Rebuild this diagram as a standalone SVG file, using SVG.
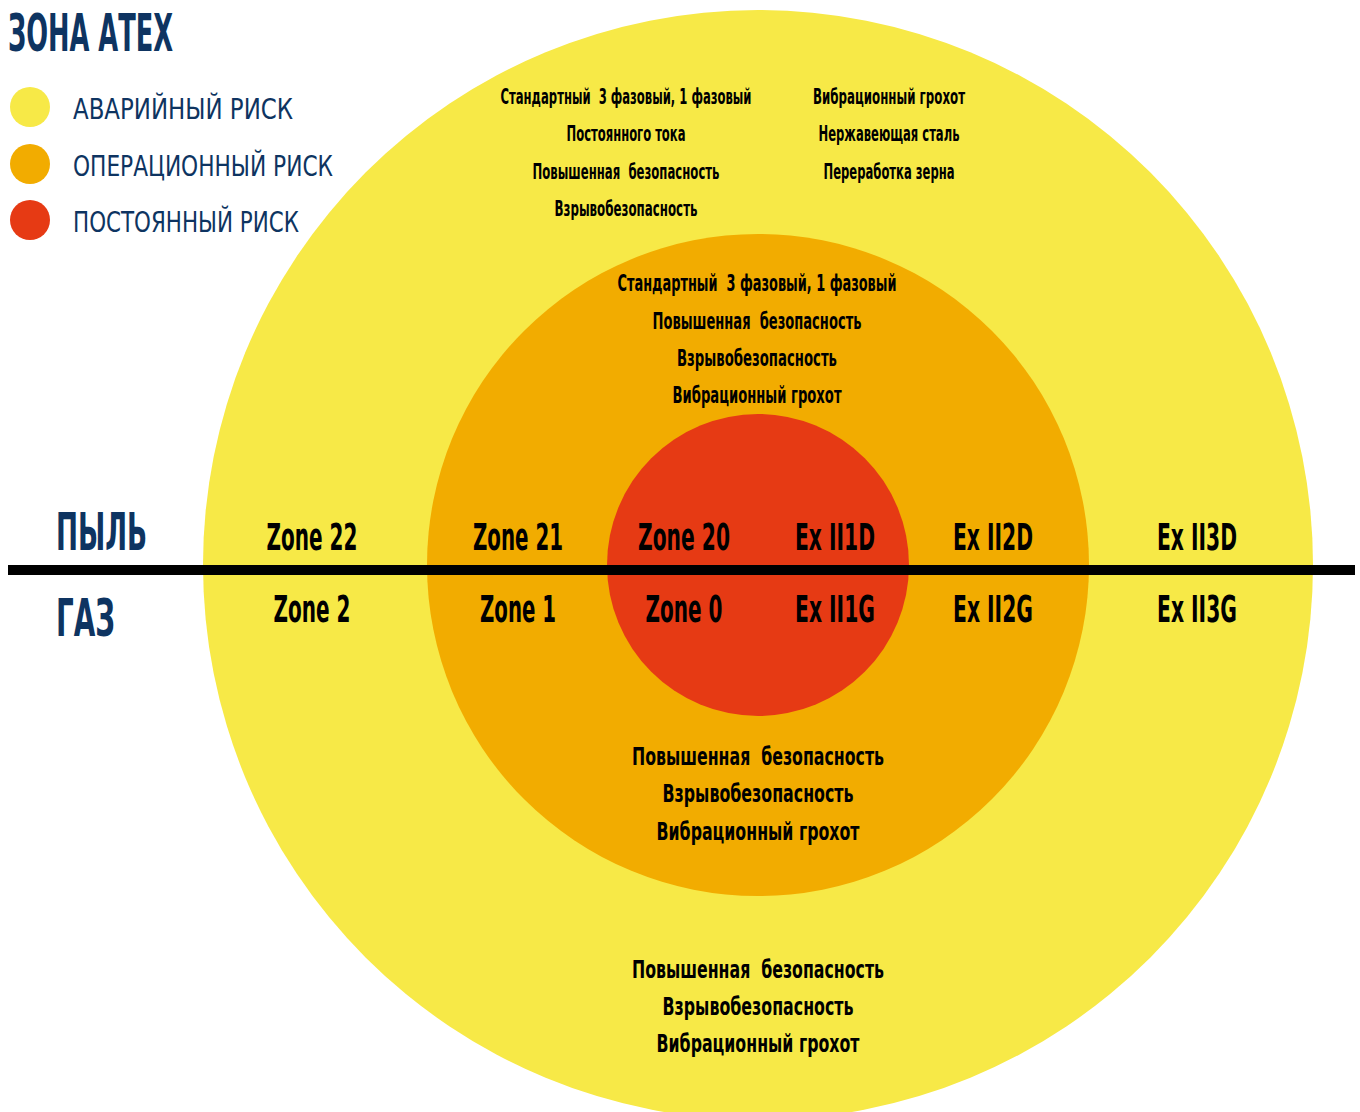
<svg xmlns="http://www.w3.org/2000/svg" width="1360" height="1112" viewBox="0 0 1360 1112">
<style>
text{font-family:"DejaVu Sans Condensed","DejaVu Sans","Liberation Sans",sans-serif;font-weight:bold;white-space:pre;}
.navy{fill:#0E3461;}
.leg{font-weight:normal;font-size:29px;fill:#0E3461;}
.z{font-size:37px;fill:#000;text-anchor:middle;}
.s{font-size:21px;fill:#000;text-anchor:middle;}
.m{font-size:23px;fill:#000;text-anchor:middle;}
.l{font-size:25px;fill:#000;text-anchor:middle;}
</style>
<rect width="1360" height="1112" fill="#ffffff"/>
<g id="zone-yellow"><circle cx="758" cy="565" r="555" fill="#F7E947"/></g>
<g id="zone-orange"><circle cx="758" cy="565" r="331" fill="#F2AC00"/></g>
<g id="zone-red"><circle cx="758" cy="565" r="151" fill="#E63A14"/></g>
<g id="divider"><rect x="8" y="565" width="1347" height="10" fill="#000"/></g>
<g id="title"><text class="navy" x="8" y="51" font-size="52" textLength="165" lengthAdjust="spacingAndGlyphs">ЗОНА АТЕХ</text></g>
<g id="legend">
<circle cx="30" cy="107" r="20" fill="#F7E947"/>
<circle cx="30" cy="164" r="20" fill="#F2AC00"/>
<circle cx="30" cy="220" r="20" fill="#E63A14"/>
<text class="leg" x="73" y="119" textLength="220" lengthAdjust="spacingAndGlyphs">АВАРИЙНЫЙ РИСК</text>
<text class="leg" x="73" y="176" textLength="260" lengthAdjust="spacingAndGlyphs">ОПЕРАЦИОННЫЙ РИСК</text>
<text class="leg" x="73" y="232" textLength="226" lengthAdjust="spacingAndGlyphs">ПОСТОЯННЫЙ РИСК</text>
</g>
<g id="side-labels">
<text class="navy" x="56" y="550" font-size="52" textLength="91" lengthAdjust="spacingAndGlyphs">ПЫЛЬ</text>
<text class="navy" x="56" y="636" font-size="52" textLength="59" lengthAdjust="spacingAndGlyphs">ГАЗ</text>
</g>
<g id="zone-labels">
<text class="z" x="312" y="550" textLength="91" lengthAdjust="spacingAndGlyphs">Zone 22</text>
<text class="z" x="518" y="550" textLength="90" lengthAdjust="spacingAndGlyphs">Zone 21</text>
<text class="z" x="684" y="550" textLength="92" lengthAdjust="spacingAndGlyphs">Zone 20</text>
<text class="z" x="835" y="550" textLength="80" lengthAdjust="spacingAndGlyphs">Ex II1D</text>
<text class="z" x="993" y="550" textLength="80" lengthAdjust="spacingAndGlyphs">Ex II2D</text>
<text class="z" x="1197" y="550" textLength="80" lengthAdjust="spacingAndGlyphs">Ex II3D</text>
<text class="z" x="312" y="622" textLength="77" lengthAdjust="spacingAndGlyphs">Zone 2</text>
<text class="z" x="518" y="622" textLength="76" lengthAdjust="spacingAndGlyphs">Zone 1</text>
<text class="z" x="684" y="622" textLength="77" lengthAdjust="spacingAndGlyphs">Zone 0</text>
<text class="z" x="835" y="622" textLength="80" lengthAdjust="spacingAndGlyphs">Ex II1G</text>
<text class="z" x="993" y="622" textLength="80" lengthAdjust="spacingAndGlyphs">Ex II2G</text>
<text class="z" x="1197" y="622" textLength="80" lengthAdjust="spacingAndGlyphs">Ex II3G</text>
</g>
<g id="yellow-top-left">
<text class="s" x="626" y="104" textLength="251" lengthAdjust="spacingAndGlyphs">Стандартный  3 фазовый, 1 фазовый</text>
<text class="s" x="626" y="141" textLength="119" lengthAdjust="spacingAndGlyphs">Постоянного тока</text>
<text class="s" x="626" y="179" textLength="187" lengthAdjust="spacingAndGlyphs">Повышенная  безопасность</text>
<text class="s" x="626" y="216" textLength="143" lengthAdjust="spacingAndGlyphs">Взрывобезопасность</text>
</g>
<g id="yellow-top-right">
<text class="s" x="889" y="104" textLength="152" lengthAdjust="spacingAndGlyphs">Вибрационный грохот</text>
<text class="s" x="889" y="141" textLength="141" lengthAdjust="spacingAndGlyphs">Нержавеющая сталь</text>
<text class="s" x="889" y="179" textLength="131" lengthAdjust="spacingAndGlyphs">Переработка зерна</text>
</g>
<g id="orange-top">
<text class="m" x="757" y="291" textLength="279" lengthAdjust="spacingAndGlyphs">Стандартный  3 фазовый, 1 фазовый</text>
<text class="m" x="757" y="329" textLength="209" lengthAdjust="spacingAndGlyphs">Повышенная  безопасность</text>
<text class="m" x="757" y="366" textLength="160" lengthAdjust="spacingAndGlyphs">Взрывобезопасность</text>
<text class="m" x="757" y="403" textLength="169" lengthAdjust="spacingAndGlyphs">Вибрационный грохот</text>
</g>
<g id="orange-bottom">
<text class="l" x="758" y="765" textLength="252" lengthAdjust="spacingAndGlyphs">Повышенная  безопасность</text>
<text class="l" x="758" y="802" textLength="191" lengthAdjust="spacingAndGlyphs">Взрывобезопасность</text>
<text class="l" x="758" y="840" textLength="203" lengthAdjust="spacingAndGlyphs">Вибрационный грохот</text>
</g>
<g id="yellow-bottom">
<text class="l" x="758" y="978" textLength="252" lengthAdjust="spacingAndGlyphs">Повышенная  безопасность</text>
<text class="l" x="758" y="1015" textLength="191" lengthAdjust="spacingAndGlyphs">Взрывобезопасность</text>
<text class="l" x="758" y="1052" textLength="203" lengthAdjust="spacingAndGlyphs">Вибрационный грохот</text>
</g>
</svg>
